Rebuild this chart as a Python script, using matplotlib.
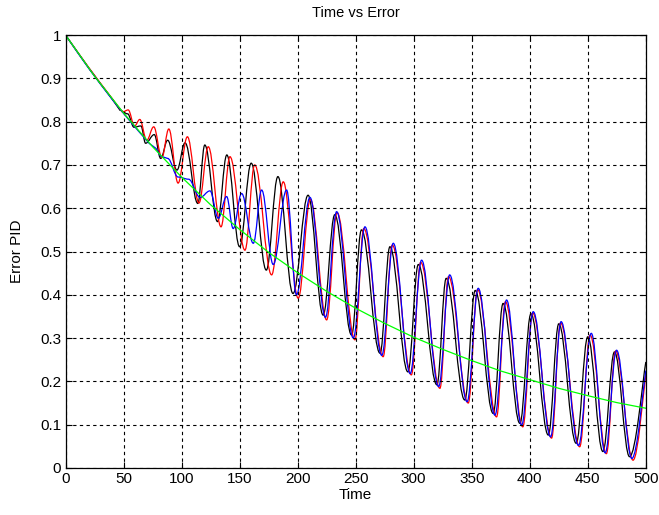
import matplotlib
matplotlib.use('Agg')
import matplotlib.pyplot as plt
from matplotlib.path import Path
from matplotlib.patches import PathPatch

plt.rcParams['font.family'] = ['Liberation Sans', 'DejaVu Sans']

# reference curve (green)
green_t = [0, 25, 50, 75, 100, 125, 150, 175, 200, 225, 250, 275, 300,
           325, 350, 375, 400, 425, 450, 475, 500]
green_v = [1.0, 0.905, 0.82, 0.742, 0.672, 0.608, 0.551, 0.498, 0.451, 0.408,
           0.369, 0.334, 0.302, 0.274, 0.248, 0.224, 0.204, 0.184, 0.167,
           0.151, 0.138]

# black response: start, then alternating peaks / troughs
black_t = [0, 10, 20, 30, 40, 47, 53.5, 59, 65, 69, 76.5, 82, 88, 96, 103,
           114, 120, 131, 139, 150, 160, 173, 183, 196, 209, 222, 232, 246.5,
           255, 271, 279.5, 295, 304, 320, 328, 344, 353, 368.5, 377, 391.5,
           401, 416, 425, 440, 450, 463, 473, 486, 500]
black_v = [1.0, 0.962, 0.924, 0.888, 0.853, 0.826, 0.818, 0.787, 0.79, 0.75,
           0.77, 0.715, 0.757, 0.688, 0.751, 0.611, 0.746, 0.569, 0.723, 0.511,
           0.704, 0.457, 0.673, 0.403, 0.63, 0.353, 0.585, 0.307, 0.55, 0.265,
           0.511, 0.222, 0.47, 0.192, 0.438, 0.157, 0.41, 0.126, 0.38, 0.103,
           0.356, 0.076, 0.333, 0.057, 0.303, 0.038, 0.268, 0.026, 0.245]
black_start = 5

# red response
red_t = [0, 10, 20, 30, 40, 49, 54, 59.5, 64, 70, 76, 83, 89, 97, 105, 115,
         123, 134, 141.7, 154.6, 163, 177.6, 187.6, 200.5, 211, 225, 234,
         249.4, 257, 273.7, 281.5, 298, 306, 322.6, 330, 347, 355, 371.4, 379,
         394, 402.5, 418.8, 426.5, 443, 452, 466, 474, 489, 500]
red_v = [1.0, 0.962, 0.925, 0.889, 0.854, 0.822, 0.827, 0.79, 0.805, 0.757,
         0.788, 0.717, 0.783, 0.658, 0.765, 0.612, 0.742, 0.557, 0.719, 0.503,
         0.70, 0.446, 0.661, 0.392, 0.62, 0.342, 0.59, 0.296, 0.553, 0.257,
         0.515, 0.215, 0.475, 0.184, 0.442, 0.15, 0.412, 0.118, 0.384, 0.095,
         0.358, 0.069, 0.335, 0.049, 0.307, 0.033, 0.27, 0.018, 0.215]
red_start = 5

# blue response
blue_t = [0, 10, 20, 30, 40, 50, 60, 72, 78, 82, 88, 97, 106, 116, 124.5,
          131.6, 138.8, 144.5, 151.7, 161.8, 169, 179, 190.5, 199, 210.6, 224,
          233.6, 248, 258, 272.5, 282.4, 297, 306.8, 321.5, 331, 346, 355.6,
          370, 380, 393, 403, 418, 427, 442, 453, 465, 474.8, 488, 500]
blue_v = [1.0, 0.961, 0.923, 0.887, 0.852, 0.819, 0.787, 0.75, 0.738, 0.72,
          0.715, 0.672, 0.667, 0.625, 0.64, 0.577, 0.627, 0.553, 0.634, 0.519,
          0.642, 0.47, 0.642, 0.40, 0.625, 0.348, 0.592, 0.30, 0.557, 0.26,
          0.519, 0.218, 0.48, 0.188, 0.446, 0.153, 0.415, 0.122, 0.388, 0.099,
          0.361, 0.072, 0.338, 0.052, 0.311, 0.035, 0.272, 0.022, 0.225]
blue_start = 10


def wave_path(t, v, start):
    # straight segments up to `start`, then smooth arcs between the extrema
    verts = [(t[0], v[0])]
    codes = [Path.MOVETO]
    for i in range(1, start + 1):
        verts.append((t[i], v[i]))
        codes.append(Path.LINETO)
    for i in range(start + 1, len(t)):
        d = t[i] - t[i - 1]
        c1 = (t[i - 1] + 0.38 * d, v[i - 1])
        if i == len(t) - 1:
            c2 = (t[i] - 0.2 * d, v[i] - 0.2 * (v[i] - v[i - 1]))
        else:
            c2 = (t[i] - 0.38 * d, v[i])
        verts += [c1, c2, (t[i], v[i])]
        codes += [Path.CURVE4] * 3
    return Path(verts, codes)


fig = plt.figure(figsize=(6.59, 5.15), dpi=100)
ax = fig.add_axes([0.0994, 0.0913, 0.8806, 0.8407])

lw = 0.9
for t, v, s, c in [(black_t, black_v, black_start, 'k'),
                   (red_t, red_v, red_start, 'r'),
                   (blue_t, blue_v, blue_start, 'b')]:
    ax.add_patch(PathPatch(wave_path(t, v, s), facecolor='none',
                           edgecolor=c, lw=lw))
ax.plot(green_t, green_v, color=(0, 1, 0), lw=lw)

ax.set_xlim(0, 500)
ax.set_ylim(0, 1)
ax.set_xticks(range(0, 501, 50))
ax.set_yticks([i / 10 for i in range(11)])
ax.set_yticklabels(['0', '0.1', '0.2', '0.3', '0.4', '0.5', '0.6', '0.7',
                    '0.8', '0.9', '1'])
ax.grid(True, color='k', linestyle=(0, (3, 3)), linewidth=0.8)
ax.tick_params(direction='in', top=True, right=True, labelsize=11, length=4,
               pad=3)
for s in ax.spines.values():
    s.set_linewidth(0.9)

ax.set_title('Time vs Error', fontsize=10.5, pad=13)
ax.set_xlabel('Time', fontsize=11, labelpad=1)
ax.set_ylabel('Error PID', fontsize=11, labelpad=12)

fig.savefig('out.png', dpi=100)
